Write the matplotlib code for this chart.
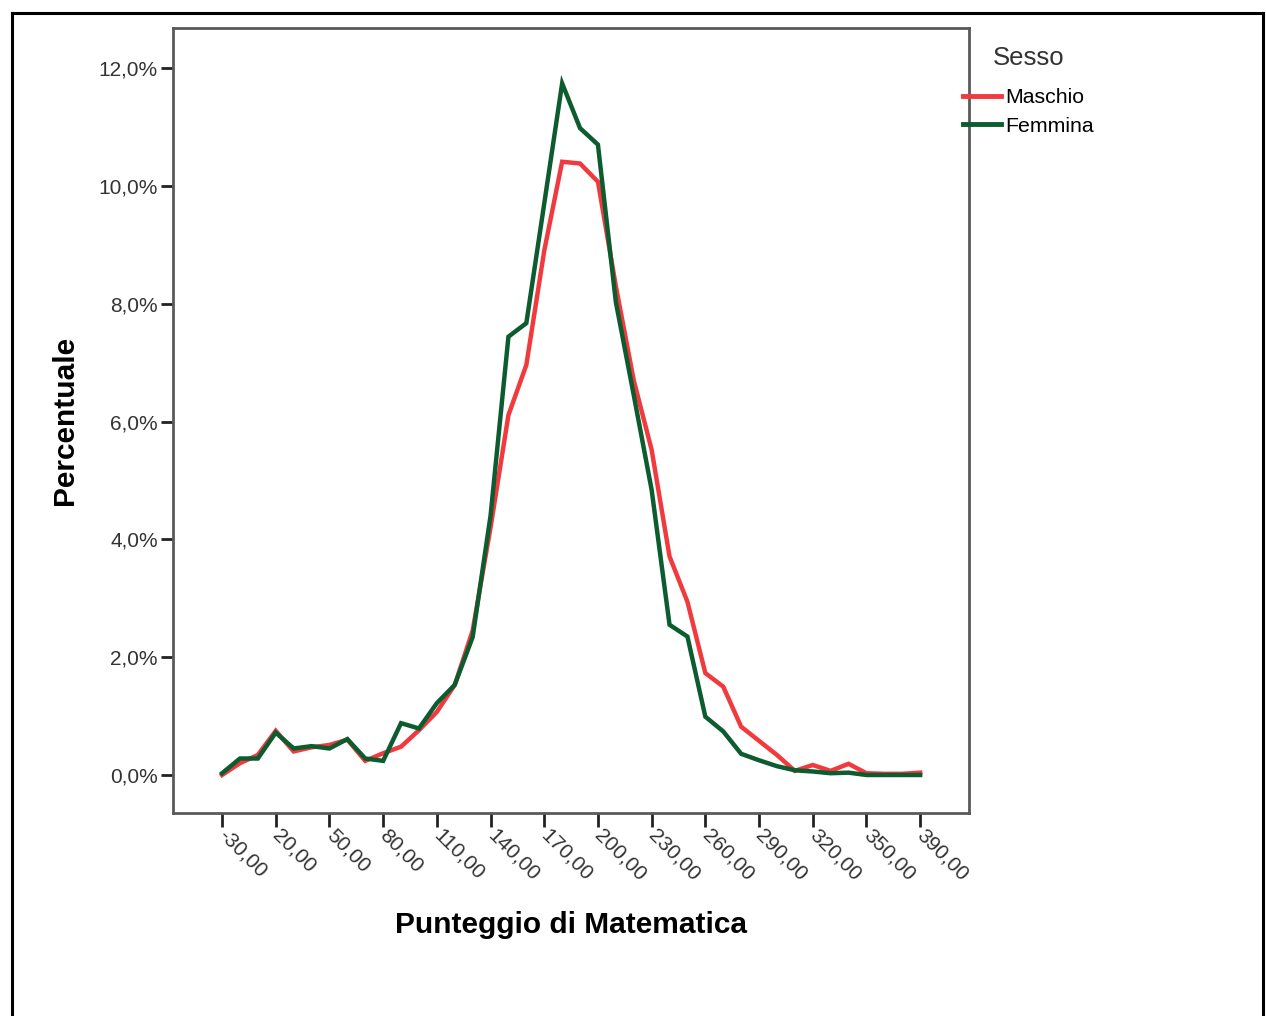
import matplotlib

matplotlib.use("Agg")
import matplotlib.pyplot as plt
from matplotlib.lines import Line2D
from matplotlib.ticker import FuncFormatter

plt.rcParams["font.family"] = ["Liberation Sans", "DejaVu Sans"]

# categorie del punteggio (solo alcune etichettate sull'asse)
punteggi = [-30, 0, 10, 20, 30, 40, 50, 60, 70, 80, 90, 100, 110, 120, 130,
            140, 150, 160, 170, 180, 190, 200, 210, 220, 230, 240, 250, 260,
            270, 280, 290, 300, 310, 320, 330, 340, 350, 360, 380, 390]
etichette_x = [-30, 20, 50, 80, 110, 140, 170, 200, 230, 260, 290, 320, 350, 390]

# percentuali
maschio = [0.00, 0.20, 0.34, 0.75, 0.40, 0.47, 0.51, 0.60, 0.24, 0.37,
           0.48, 0.76, 1.07, 1.53, 2.45, 4.20, 6.11, 6.96, 8.90, 10.41,
           10.38, 10.07, 8.30, 6.70, 5.52, 3.71, 2.94, 1.73, 1.50, 0.82,
           0.58, 0.34, 0.07, 0.17, 0.07, 0.19, 0.03, 0.02, 0.02, 0.04]
femmina = [0.03, 0.28, 0.28, 0.72, 0.45, 0.49, 0.45, 0.61, 0.28, 0.24,
           0.88, 0.79, 1.22, 1.53, 2.34, 4.40, 7.44, 7.67, 9.70, 11.74,
           10.98, 10.70, 8.03, 6.45, 4.84, 2.55, 2.35, 0.99, 0.74, 0.36,
           0.25, 0.15, 0.08, 0.06, 0.03, 0.04, 0.00, 0.00, 0.00, 0.00]

ROSSO = "#f03a3e"
VERDE = "#0c5c30"
GRIGIO = "#5a5a5a"

fig = plt.figure(figsize=(12.66, 10.16), dpi=100)
ax = fig.add_axes([173 / 1266, 1 - 813 / 1016, 796 / 1266, 785 / 1016])

idx = list(range(len(punteggi)))
ax.plot(idx, maschio, color=ROSSO, linewidth=3.2, label="Maschio",
        solid_joinstyle="miter")
ax.plot(idx, femmina, color=VERDE, linewidth=3.2, label="Femmina",
        solid_joinstyle="miter")

ax.set_xlim(-2.74, 41.73)
ax.set_ylim(-0.645, 12.68)

# assi in stile SPSS
for sp in ax.spines.values():
    sp.set_color(GRIGIO)
    sp.set_linewidth(2)

ax.set_yticks([0, 2, 4, 6, 8, 10, 12])
ax.yaxis.set_major_formatter(
    FuncFormatter(lambda v, p: f"{v:.1f}%".replace(".", ",")))
ax.tick_params(axis="y", length=9, width=2, color="#222222", pad=2,
               labelsize=15, labelcolor="#333333")

pos_x = [punteggi.index(v) for v in etichette_x]
ax.set_xticks(pos_x)
ax.set_xticklabels([f"{v},00" for v in etichette_x], rotation=-45,
                   ha="left", va="center", rotation_mode="anchor")
ax.tick_params(axis="x", length=10, width=2, color="#222222", pad=4,
               labelsize=15, labelcolor="#333333")

ax.set_ylabel("Percentuale", fontsize=21.5, fontweight="bold", labelpad=14)
ax.set_xlabel("Punteggio di Matematica", fontsize=21.5, fontweight="bold",
              labelpad=19)

leg = ax.legend(loc="upper left", bbox_to_anchor=(0.9925, 0.977),
                frameon=False, title="Sesso", fontsize=15.3,
                title_fontsize=18.5, handlelength=1.8, handletextpad=0.2,
                labelspacing=0.45, borderpad=0, borderaxespad=0,
                alignment="center")
leg.get_title().set_color("#333333")
leg._legend_box.sep = 13
for h in leg.legend_handles:
    h.set_linewidth(3.5)

# cornice esterna
for xs, ys in [((12, 12), (-10, 13)), ((12, 1263), (13, 13)),
               ((1263, 1263), (13, -10))]:
    fig.add_artist(Line2D([x / 1266 for x in xs],
                          [1 - y / 1016 if y >= 0 else 0 for y in ys],
                          color="black", linewidth=2.2))

fig.savefig("out.png", dpi=100)
plt.close(fig)
